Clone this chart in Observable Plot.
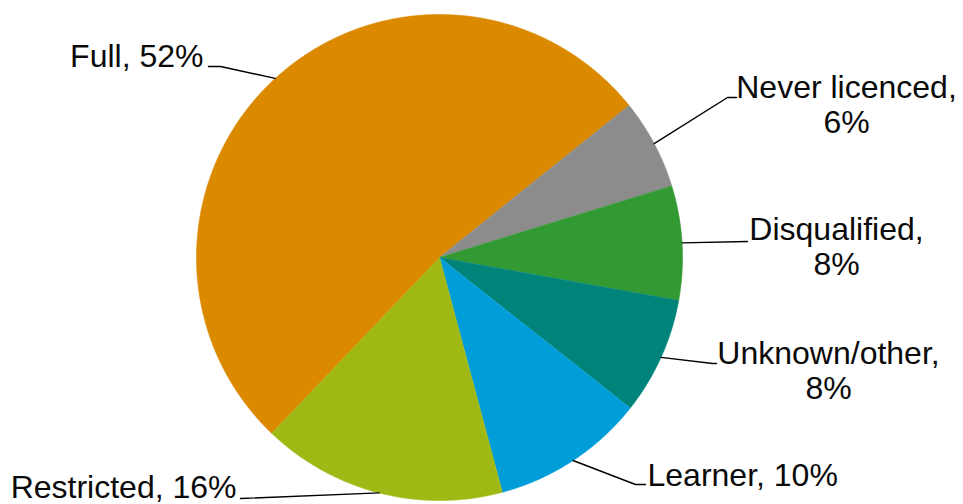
<!DOCTYPE html>
<html><head><meta charset="utf-8">
<script src="https://cdn.jsdelivr.net/npm/d3@7"></script>
<script src="https://cdn.jsdelivr.net/npm/@observablehq/plot@0.6"></script>
<style>html,body{margin:0;padding:0;background:#fff;overflow:hidden;}</style>
</head><body><div id="chart"></div>
<script>
// ---- data ----
const categories = ["Full", "Never licenced", "Disqualified", "Unknown/other", "Learner", "Restricted"];
const shares = [52.1, 6.0, 7.6, 7.8, 10.2, 16.3];
const colors = ["#DB8A00", "#8C8C8C", "#339933", "#00847A", "#009DD9", "#A0B814"];
// label line breaks: true = name and percentage on separate lines
const labelBreak = [false, true, true, true, false, false];

// ---- layout (pixels) ----
const W = 963, H = 504, cx = 439, cy = 257, R = 243;
const startDeg = 223.7;
const fontSize = 32, lineH = 35;
const labelLayout = [
  {elbow: [220, 66], end: [208, 66], text: [203, 66], anchor: "end"},
  {elbow: [727, 97], end: [736, 97], text: [846, 132], anchor: "middle"},
  {elbow: [747, 241], end: [747, 241], text: [836, 274], anchor: "middle"},
  {elbow: [712, 363], end: [716, 363], text: [828, 398], anchor: "middle"},
  {elbow: [635, 484], end: [645, 484], text: [647, 485], anchor: "start"},
  {elbow: [240, 498], end: [240, 498], text: [236, 497], anchor: "end"}
];
const toX = px => (px - cx) / R, toY = py => (cy - py) / R;

const arcs = d3.pie().sort(null).value(d => d)
  .startAngle(startDeg * Math.PI / 180)
  .endAngle((startDeg + 360) * Math.PI / 180)(shares);

const slicePts = [];
arcs.forEach((a, i) => {
  const name = categories[i];
  const n = Math.max(2, Math.ceil((a.endAngle - a.startAngle) / (Math.PI / 360)));
  slicePts.push({name, x: 0, y: 0});
  for (let k = 0; k <= n; k++) {
    const t = a.startAngle + (a.endAngle - a.startAngle) * k / n;
    slicePts.push({name, x: Math.sin(t), y: Math.cos(t)});
  }
});

const marks = [
  Plot.line(slicePts, {x: "x", y: "y", z: "name", fill: "name", stroke: "name", strokeWidth: 0.6, curve: "linear"})
];

arcs.forEach((a, i) => {
  const L = labelLayout[i];
  const mid = (a.startAngle + a.endAngle) / 2;
  const leader = [
    {x: Math.sin(mid), y: Math.cos(mid)},
    {x: toX(L.elbow[0]), y: toY(L.elbow[1])},
    {x: toX(L.end[0]), y: toY(L.end[1])}
  ];
  marks.push(Plot.line(leader, {x: "x", y: "y", stroke: "#000", strokeWidth: 1.4, curve: "linear"}));
  const pct = Math.round(shares[i]) + "%";
  const txt = categories[i] + "," + (labelBreak[i] ? "\n" : " ") + pct;
  marks.push(Plot.text([{x: toX(L.text[0]), y: toY(L.text[1]), t: txt}], {
    x: "x", y: "y", text: "t", textAnchor: L.anchor, lineAnchor: "bottom",
    lineHeight: lineH / fontSize, fontSize, fill: "#0a0a0a",
    fontFamily: "'Liberation Sans', Arial, sans-serif"
  }));
});

const chart = Plot.plot({
  width: W, height: H,
  marginLeft: cx - R, marginRight: W - (cx + R), marginTop: cy - R, marginBottom: H - (cy + R),
  x: {domain: [-1, 1], axis: null},
  y: {domain: [-1, 1], axis: null},
  color: {domain: categories, range: colors, legend: false},
  style: {background: "#fff", overflow: "visible"},
  marks
});
document.getElementById("chart").appendChild(chart);
</script>
</body></html>
